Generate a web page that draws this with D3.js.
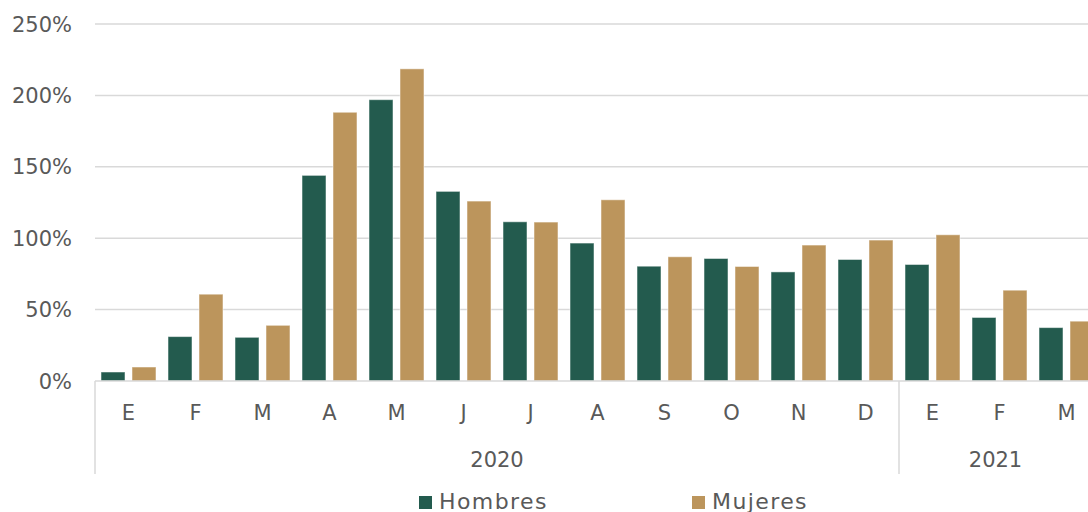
<!DOCTYPE html>
<html><head><meta charset="utf-8">
<script src="https://cdn.jsdelivr.net/npm/d3@7"></script>
<style>
html,body{margin:0;padding:0;background:#fff;}
svg{display:block;font-family:"DejaVu Sans",sans-serif;}
</style></head>
<body><svg id="c" width="1088" height="512"></svg>
<script>
const months = ["E","F","M","A","M","J","J","A","S","O","N","D","E","F","M"];
const years = [{label:"2020", start:0, end:11},{label:"2021", start:12, end:14}];
const seriesNames = ["Hombres","Mujeres"];
const hombres = [0.063,0.311,0.306,1.44,1.97,1.328,1.115,0.966,0.804,0.858,0.764,0.851,0.816,0.445,0.374];
const mujeres = [0.098,0.608,0.39,1.882,2.186,1.26,1.113,1.269,0.87,0.802,0.952,0.987,1.024,0.636,0.419];
const yTicks = [0,0.5,1,1.5,2,2.5];
const colors = ["#235B4E","#BC955C"];

const svg = d3.select("#c");
const left = 95, step = 67;
const x = d3.scaleBand().domain(d3.range(months.length)).range([left, left + step*months.length]);
const xs = d3.scaleBand().domain(seriesNames).range([0, x.bandwidth()]).paddingInner(0.226).paddingOuter(0.194);
const y = d3.scaleLinear().domain([0,2.5]).range([381,24]);
const textColor = "#595959", gridColor = "#d9d9d9";

// gridlines
svg.append("g").selectAll("line").data(yTicks.filter(d=>d>0)).join("line")
  .attr("x1", left).attr("x2", 1088).attr("y1", d=>y(d)).attr("y2", d=>y(d))
  .attr("stroke", gridColor).attr("stroke-width", 1.5);

// y labels
svg.append("g").selectAll("text").data(yTicks).join("text")
  .attr("x", 72).attr("y", d=>y(d)).attr("dy","0.36em").attr("text-anchor","end")
  .attr("fill", textColor).style("font-size","21px")
  .text(d=>d3.format(".0%")(d));

// bars
const data = months.map((m,i)=>({i, vals:[hombres[i], mujeres[i]]}));
const g = svg.append("g").selectAll("g").data(data).join("g")
  .attr("transform", d=>`translate(${x(d.i)},0)`);
g.selectAll("rect").data(d=>d.vals.map((v,k)=>({k,v}))).join("rect")
  .attr("x", d=>xs(seriesNames[d.k])).attr("width", xs.bandwidth())
  .attr("y", d=>y(d.v)).attr("height", d=>y(0)-y(d.v))
  .attr("fill", d=>colors[d.k]).attr("stroke","rgba(255,255,255,0.5)").attr("stroke-width",1);

// axis line
svg.append("line").attr("x1", left).attr("x2",1088).attr("y1", y(0)).attr("y2", y(0))
  .attr("stroke", gridColor).attr("stroke-width", 1.5);

// month labels
svg.append("g").selectAll("text").data(months).join("text")
  .attr("x", (d,i)=>x(i)+x.bandwidth()/2).attr("y", 420).attr("text-anchor","middle")
  .attr("fill", textColor).style("font-size","21px").text(d=>d);

// year separators
const seps = [x(0)].concat(years.map(yy=>x(yy.end)+x.bandwidth()));
svg.append("g").selectAll("line").data(seps).join("line")
  .attr("x1", d=>d).attr("x2", d=>d).attr("y1", y(0)).attr("y2", 474)
  .attr("stroke", gridColor).attr("stroke-width", 1.5);

// year labels
svg.append("g").selectAll("text").data(years).join("text")
  .attr("x", d=>(x(d.start)+x(d.end)+x.bandwidth())/2 - (d.label==="2021"?4:0)).attr("y", 467).attr("text-anchor","middle")
  .attr("fill", textColor).style("font-size","21px").text(d=>d.label);

// legend
const legendX = [419, 692];
const lg = svg.append("g").selectAll("g").data(seriesNames).join("g")
  .attr("transform", (d,i)=>`translate(${legendX[i]},496)`);
lg.append("rect").attr("width",13).attr("height",13).attr("fill",(d,i)=>colors[i]);
lg.append("text").attr("x",20).attr("y",13).attr("fill",textColor).style("font-size","22px")
  .style("letter-spacing","1.4px").text(d=>d);
</script></body></html>
